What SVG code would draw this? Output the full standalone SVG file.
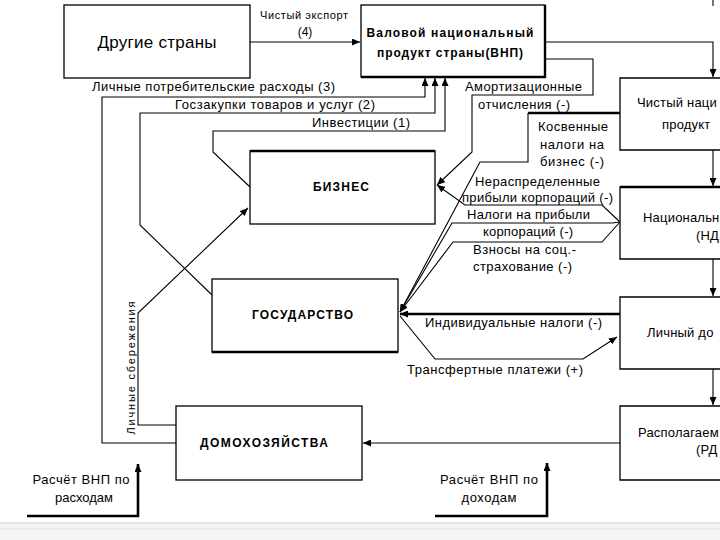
<svg xmlns="http://www.w3.org/2000/svg" width="720" height="540" viewBox="0 0 720 540">
<defs>
<marker id="ah" markerUnits="userSpaceOnUse" markerWidth="9" markerHeight="7" refX="8" refY="3.5" orient="auto">
<path d="M0,0 L8,3.5 L0,7 Z" fill="#000"/>
</marker>
<style>
.bx{fill:#fff;stroke:#000;stroke-width:1.3}
.th{fill:none;stroke:#000;stroke-width:2.4}
.ln{fill:none;stroke:#000;stroke-width:1.1}
.lt{fill:none;stroke:#000;stroke-width:2.6}
text{font-family:"Liberation Sans",Arial,sans-serif;font-size:13px;fill:#000}
.b{font-weight:bold;font-size:12px}
.m{text-anchor:middle}
.r{letter-spacing:0.2px}
</style>
</defs>
<rect width="720" height="540" fill="#fff"/>
<g id="bottom-band">
<rect x="0" y="522" width="720" height="18" fill="#f4f4f4"/>
<line x1="0" y1="523" x2="720" y2="523" stroke="#d8d8d8"/>
<line x1="0" y1="529" x2="720" y2="529" stroke="#e2e2e2"/>
</g>
<g id="connectors">
<path class="ln" d="M250,42 H360" marker-end="url(#ah)"/>
<path class="ln" d="M176,443 H102 V97 H425 V78" marker-end="url(#ah)"/>
<path class="ln" d="M212,295 L140,225 V113 H435 V78" marker-end="url(#ah)"/>
<path class="ln" d="M250,187 L213,152 V131 H445 V78" marker-end="url(#ah)"/>
<path class="ln" d="M176,425 H138 V313 L248,208" marker-end="url(#ah)"/>
<path class="ln" d="M545,42 H713 V77" marker-end="url(#ah)"/>
<path class="ln" d="M713,0 V6"/>
<path class="ln" d="M713,150 V186" marker-end="url(#ah)"/>
<path class="ln" d="M713,259 V296" marker-end="url(#ah)"/>
<path class="ln" d="M713,369 V405" marker-end="url(#ah)"/>
<path class="ln" d="M546,59 H593 V95 H472 V152 L437,185" marker-end="url(#ah)"/>
<path class="lt" d="M620,113 H528" />
<path class="ln" d="M528,113 V162 H480 L400,312" marker-end="url(#ah)"/>
<path class="ln" d="M620,222 L602,205 H465 L437,185" marker-end="url(#ah)"/>
<path class="ln" d="M620,222 L612,223 H452 L400,312" marker-end="url(#ah)"/>
<path class="ln" d="M620,222 L602,242 H453 L400,312" marker-end="url(#ah)"/>
<path class="lt" d="M620,314 H400" marker-end="url(#ah)"/>
<path class="ln" d="M400,316 L435,359 H583 L617,337" marker-end="url(#ah)"/>
<path class="ln" d="M620,443 H363" marker-end="url(#ah)"/>
<path class="lt" d="M27,516 H138 V464" marker-end="url(#ah)"/>
<path class="lt" d="M435,516 H547 V463" marker-end="url(#ah)"/>
</g>
<g id="other-countries">
<rect class="bx" x="64" y="5" width="186" height="73"/>
<text x="157" y="48" class="m" style="font-size:17px" textLength="119">Другие страны</text>
</g>
<g id="gnp">
<rect class="bx" x="361" y="5" width="184" height="72"/>
<path class="th" d="M361,77 H545 V5"/>
<text x="450" y="37" class="m b" textLength="167">Валовой национальный</text>
<text x="450" y="57" class="m b" textLength="146">продукт страны(ВНП)</text>
</g>
<g id="business">
<rect class="bx" x="250" y="151" width="185" height="73"/>
<path class="th" d="M250,151 H435"/>
<text x="313" y="191" class="b" textLength="56">БИЗНЕС</text>
</g>
<g id="government">
<rect class="bx" x="212" y="279" width="186" height="73"/>
<path class="th" d="M212,352 H398"/>
<text x="252" y="319" class="b" textLength="101">ГОСУДАРСТВО</text>
</g>
<g id="households">
<rect class="bx" x="176" y="406" width="186" height="74"/>
<text x="200" y="447" class="b" textLength="128">ДОМОХОЗЯЙСТВА</text>
</g>
<g id="nnp">
<path class="bx" d="M720,78 H620 V150 H720"/>
<text x="637" y="107" class="r">Чистый наци</text>
<text x="662" y="129" class="r">продукт</text>
</g>
<g id="ni">
<path class="bx" d="M720,187 H620 V259 H720"/>
<path class="th" d="M620,187 H720"/>
<text x="643" y="222" class="r">Национальн</text>
<text x="696" y="240" class="r">(НД</text>
</g>
<g id="pi">
<path class="bx" d="M720,297 H620 V369 H720"/>
<text x="647" y="337" class="r">Личный до</text>
</g>
<g id="di">
<path class="bx" d="M720,406 H620 V480 H720"/>
<text x="638" y="437" class="r">Располагаем</text>
<text x="696" y="454" class="r">(РД</text>
</g>
<g id="labels">
<text x="304" y="19" class="m" style="font-size:11px" textLength="88">Чистый экспорт</text>
<text x="305" y="36" class="m" style="font-size:12px">(4)</text>
<text x="92" y="91" textLength="243">Личные потребительские расходы (3)</text>
<text x="175" y="109" textLength="200">Госзакупки товаров и услуг (2)</text>
<text x="312" y="127" textLength="98">Инвестиции (1)</text>
<text x="465" y="91" textLength="117">Амортизационные</text>
<text x="478" y="109" textLength="92">отчисления (-)</text>
<text x="538" y="131" textLength="70">Косвенные</text>
<text x="540" y="149" textLength="64">налоги на</text>
<text x="540" y="166" textLength="64">бизнес (-)</text>
<text x="475" y="186" textLength="125">Нераспределенные</text>
<text x="462" y="202" textLength="151">прибыли корпораций (-)</text>
<text x="467" y="219" textLength="123">Налоги на прибыли</text>
<text x="483" y="236" textLength="90">корпораций (-)</text>
<text x="473" y="254" textLength="103">Взносы на соц.-</text>
<text x="473" y="271" textLength="99">страхование (-)</text>
<text x="425" y="327" textLength="177">Индивидуальные налоги (-)</text>
<text x="407" y="374" textLength="176">Трансфертные платежи (+)</text>
<text transform="translate(135,368) rotate(-90)" class="m" style="font-size:11px" textLength="133">Личные сбережения</text>
<text x="81" y="484" class="m" textLength="97">Расчёт ВНП по</text>
<text x="84" y="502" class="m" textLength="58">расходам</text>
<text x="489" y="484" class="m" textLength="98">Расчёт ВНП по</text>
<text x="489" y="502" class="m" textLength="55">доходам</text>
</g>
</svg>
